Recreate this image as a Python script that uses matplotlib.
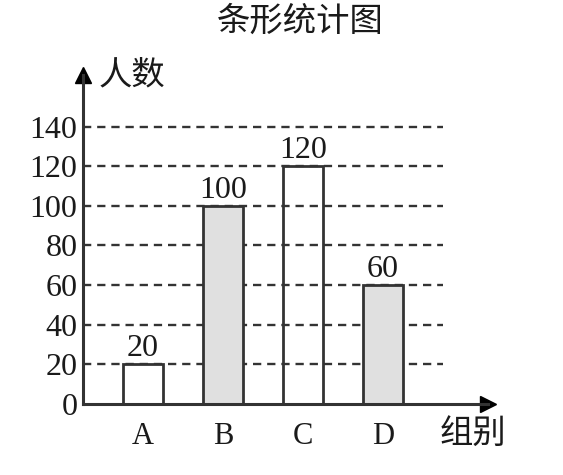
import numpy as np
import matplotlib.pyplot as plt

plt.rcParams['font.family'] = ['Liberation Serif', 'Noto Sans CJK SC']

# data
groups = ['A', 'B', 'C', 'D']
counts = [20, 100, 120, 60]
fills = ['white', '#e0e0e0', (1, 1, 1, 0), '#e0e0e0']
yticks = [0, 20, 40, 60, 80, 100, 120, 140]

W, H = 563, 475
fig = plt.figure(figsize=(W / 100, H / 100), dpi=100)

# axes box in pixels: origin (83, 404), top-right (488, 75)
ax = fig.add_axes([83 / W, (H - 404) / H, (488 - 83) / W, (404 - 75) / H])
ax.set_xlim(-0.75, 4.3125)
ax.set_ylim(0, 166)

ink = '#1a1a1a'
x = np.arange(len(groups))

# dashed grid lines, stop short of the arrow
for v in yticks[1:]:
    ax.plot([-0.75, 3.75], [v, v], ls=(0, (3.5, 2.5)), color='#333333', lw=1.7, zorder=1)

for xi, c, f in zip(x, counts, fills):
    ax.bar(xi, c, width=0.5, facecolor=f, edgecolor='#333333', linewidth=2, zorder=2)
    ax.text(xi, c + 0.5, str(c), ha='center', va='bottom', fontsize=23, color=ink)

for s in ['top', 'right']:
    ax.spines[s].set_visible(False)
for s in ['left', 'bottom']:
    ax.spines[s].set_linewidth(2.2)
    ax.spines[s].set_color('#333333')
    ax.spines[s].set_zorder(3)

# arrow heads
ax.plot(1, 0, '>', color='k', ms=12, transform=ax.transAxes, clip_on=False)
ax.plot(0, 1, '^', color='k', ms=12, transform=ax.transAxes, clip_on=False)

ax.set_yticks(yticks)
ax.set_yticklabels([str(t) for t in yticks], fontsize=23, color=ink)
ax.set_xticks(x)
ax.set_xticklabels(groups, fontsize=22, color=ink)
ax.tick_params(axis='y', length=0, pad=4)
ax.tick_params(axis='x', length=0, pad=13)

fig.text(300 / W, 1 - 22 / H, '条形统计图', ha='center', va='center', fontsize=24, color=ink)
fig.text(132 / W, 1 - 76 / H, '人数', ha='center', va='center', fontsize=24, color=ink)
fig.text(473 / W, 1 - 434 / H, '组别', ha='center', va='center', fontsize=24, color=ink)

fig.savefig('out.png', dpi=100)
